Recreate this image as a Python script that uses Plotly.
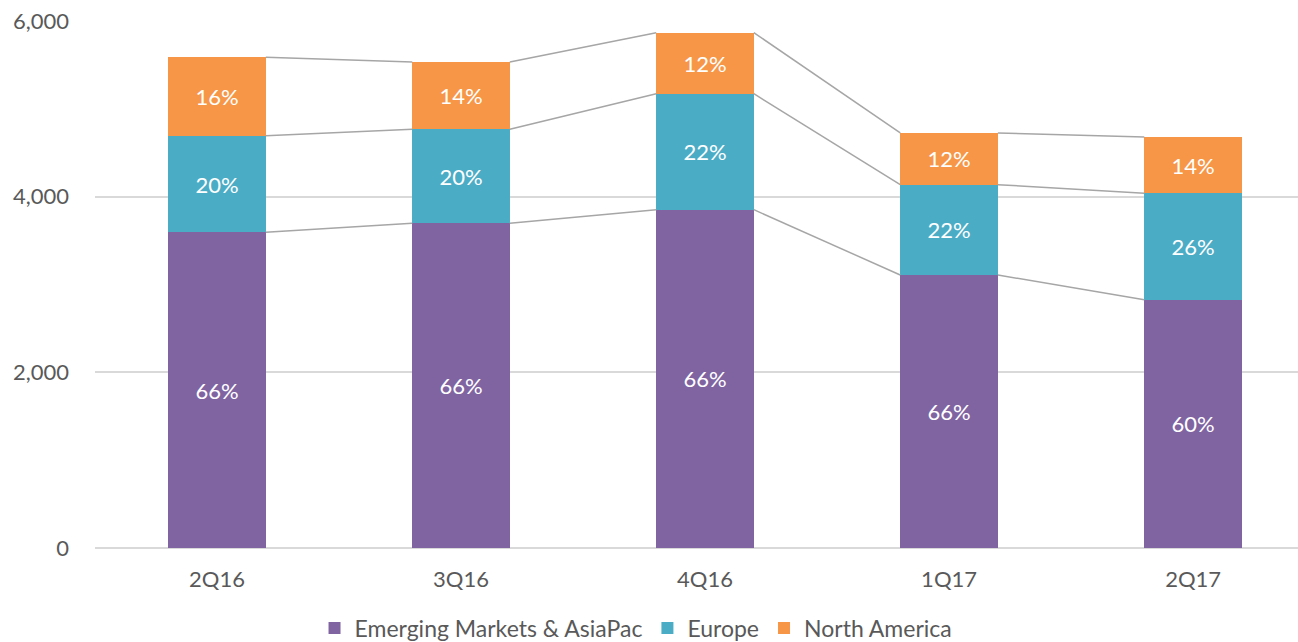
import plotly.graph_objects as go

categories = ["2Q16", "3Q16", "4Q16", "1Q17", "2Q17"]
em_values = [3594, 3696, 3852, 3108, 2827]
europe_values = [1100, 1071, 1320, 1029, 1213]
na_values = [893, 766, 695, 588, 639]
em_labels = ["66%", "66%", "66%", "66%", "60%"]
europe_labels = ["20%", "20%", "22%", "22%", "26%"]
na_labels = ["16%", "14%", "12%", "12%", "14%"]
y_ticks = [0, 2000, 4000, 6000]

series = [
    ("Emerging Markets & AsiaPac", em_values, em_labels, "#8064A2"),
    ("Europe", europe_values, europe_labels, "#4BACC6"),
    ("North America", na_values, na_labels, "#F79646"),
]

FONT = "Lato, 'Open Sans', sans-serif"
BAR_W = 0.4
x_pos = list(range(len(categories)))

fig = go.Figure()

cum = [0] * len(categories)
tops = []
for name, vals, labels, color in series:
    fig.add_trace(go.Bar(
        x=x_pos, y=vals, name=name, text=labels,
        textposition="inside", insidetextanchor="middle",
        textfont=dict(color="white", size=22, family=FONT),
        marker=dict(color=color, line=dict(width=0)),
        width=BAR_W, constraintext="none",
        hoverinfo="skip",
    ))
    cum = [c + v for c, v in zip(cum, vals)]
    tops.append(list(cum))

# connector lines between segment tops
for t in tops:
    lx, ly = [], []
    for i in range(len(categories) - 1):
        lx += [x_pos[i] + BAR_W / 2, x_pos[i + 1] - BAR_W / 2, None]
        ly += [t[i], t[i + 1], None]
    fig.add_trace(go.Scatter(x=lx, y=ly, mode="lines",
                             line=dict(color="#A6A6A6", width=1.5),
                             showlegend=False, hoverinfo="skip"))

fig.update_layout(
    barmode="stack",
    width=1298, height=642,
    margin=dict(l=95, r=0, t=21, b=94, autoexpand=False),
    plot_bgcolor="white", paper_bgcolor="white",
    font=dict(family=FONT, color="#595959", size=22),
    legend=dict(orientation="h", xref="container", yref="paper",
                x=0.49, xanchor="center", y=-0.152, yanchor="middle",
                font=dict(size=23, color="#595959"),
                itemwidth=30, traceorder="normal"),
    xaxis=dict(range=[-0.5, 4.43], tickvals=x_pos, ticktext=categories,
               showgrid=False, zeroline=False, showline=False,
               ticks="", ticklabelstandoff=16,
               tickfont=dict(size=22, color="#595959")),
    yaxis=dict(range=[0, 6000], tickvals=y_ticks, tickformat=",",
               showgrid=True, gridcolor="#D9D9D9", gridwidth=1.5,
               zeroline=True, zerolinecolor="#D9D9D9", zerolinewidth=1.5,
               showline=False, ticks="", ticklabelstandoff=25,
               tickfont=dict(size=22, color="#595959")),
    bargap=0.6,
)

fig.write_html("out.html", config={"displayModeBar": False})

# remove the browser's default body margin so the figure sits at (0,0)
with open("out.html", "r", encoding="utf-8") as f:
    html = f.read()
html = html.replace("<head>", "<head><style>html,body{margin:0;padding:0;}</style>", 1)
with open("out.html", "w", encoding="utf-8") as f:
    f.write(html)
